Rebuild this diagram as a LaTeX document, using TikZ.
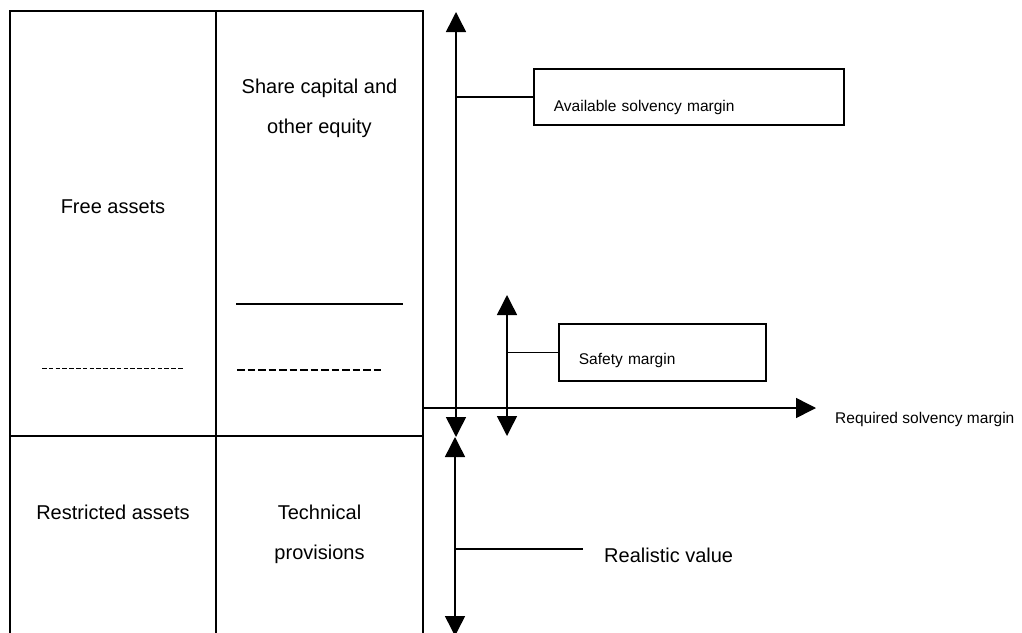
\documentclass[tikz,border=0pt]{standalone}
\usepackage{fontspec}
\setmainfont{Liberation Sans}
\usetikzlibrary{arrows.meta}
\begin{document}
\begin{tikzpicture}[x=1pt,y=-1pt,
  frame/.style={line width=1.8pt},
  big/.style={font=\fontsize{20}{40}\selectfont, inner sep=0pt, align=center},
  small/.style={font=\fontsize{15.5}{18}\selectfont},
  head/.tip={Triangle[length=20pt,width=20pt]},
  span/.style={line width=1.5pt, head-head},
  ray/.style={line width=1.5pt, -head},
  lead/.style={line width=1.3pt},
  tag/.style={draw, line width=1.8pt, small, inner ysep=0pt, inner xsep=20pt, align=left, anchor=north west}
]
\useasboundingbox (0,0) rectangle (1022,632);

% balance sheet frame
\draw[frame] (10,640) -- (10,11) -- (423,11) -- (423,640);
\draw[frame] (216,11) -- (216,640);
\draw[frame] (10,436) -- (423,436);

% separators inside the columns
\draw[line width=0.8pt, dash pattern=on 4.5pt off 2.3pt] (42,368) -- (184,368);
\draw[frame] (236,304) -- (403,304);
\draw[line width=2.2pt, dash pattern=on 7.5pt off 3pt] (237,370) -- (384,370);

% column texts (base anchor sits on the last line)
\node[big, anchor=base] (free) at (113,213) {Free assets};
\node[big, anchor=base] (equity) at (319.5,133) {Share capital and\\other equity};
\node[big, anchor=base] (restr) at (113,519) {Restricted assets};
\node[big, anchor=base] (tech) at (319.5,559) {Technical\\provisions};

% measuring arrows
\coordinate (asmTop) at (456,12);
\coordinate (asmBot) at (456,437);
\coordinate (rvTop) at (455,437);
\coordinate (rvBot) at (455,636);
\coordinate (smTop) at (507,295);
\coordinate (smBot) at (507,436);
\coordinate (rsmStart) at (423,408);
\coordinate (rsmEnd) at (816,408);
\draw[span] (asmTop) -- (asmBot);
\draw[span] (rvTop) -- (rvBot);
\draw[span] (smTop) -- (smBot);
\draw[ray] (rsmStart) -- (rsmEnd);

% labels
\node[tag, text width=270pt, text height=43pt, text depth=13pt] (avail) at (533,68) {Available solvency margin};
\node[tag, text width=167pt, text height=41pt, text depth=16pt] (safety) at (558,323) {Safety margin};
\node[big, anchor=base west, text height=26pt, text depth=0pt, inner xsep=21pt, inner ysep=0pt] (real) at (583,562) {Realistic value};
\node[small, anchor=base west, inner sep=0pt] (req) at (835,423) {Required solvency margin};

% horizontal leaders from the arrows to their labels
\draw[lead] (avail.west -| asmTop) -- (avail.west);
\draw[lead] (safety.west -| smTop) -- (safety.west);
\draw[lead] (real.west -| rvTop) -- (real.west);
\end{tikzpicture}
\end{document}
